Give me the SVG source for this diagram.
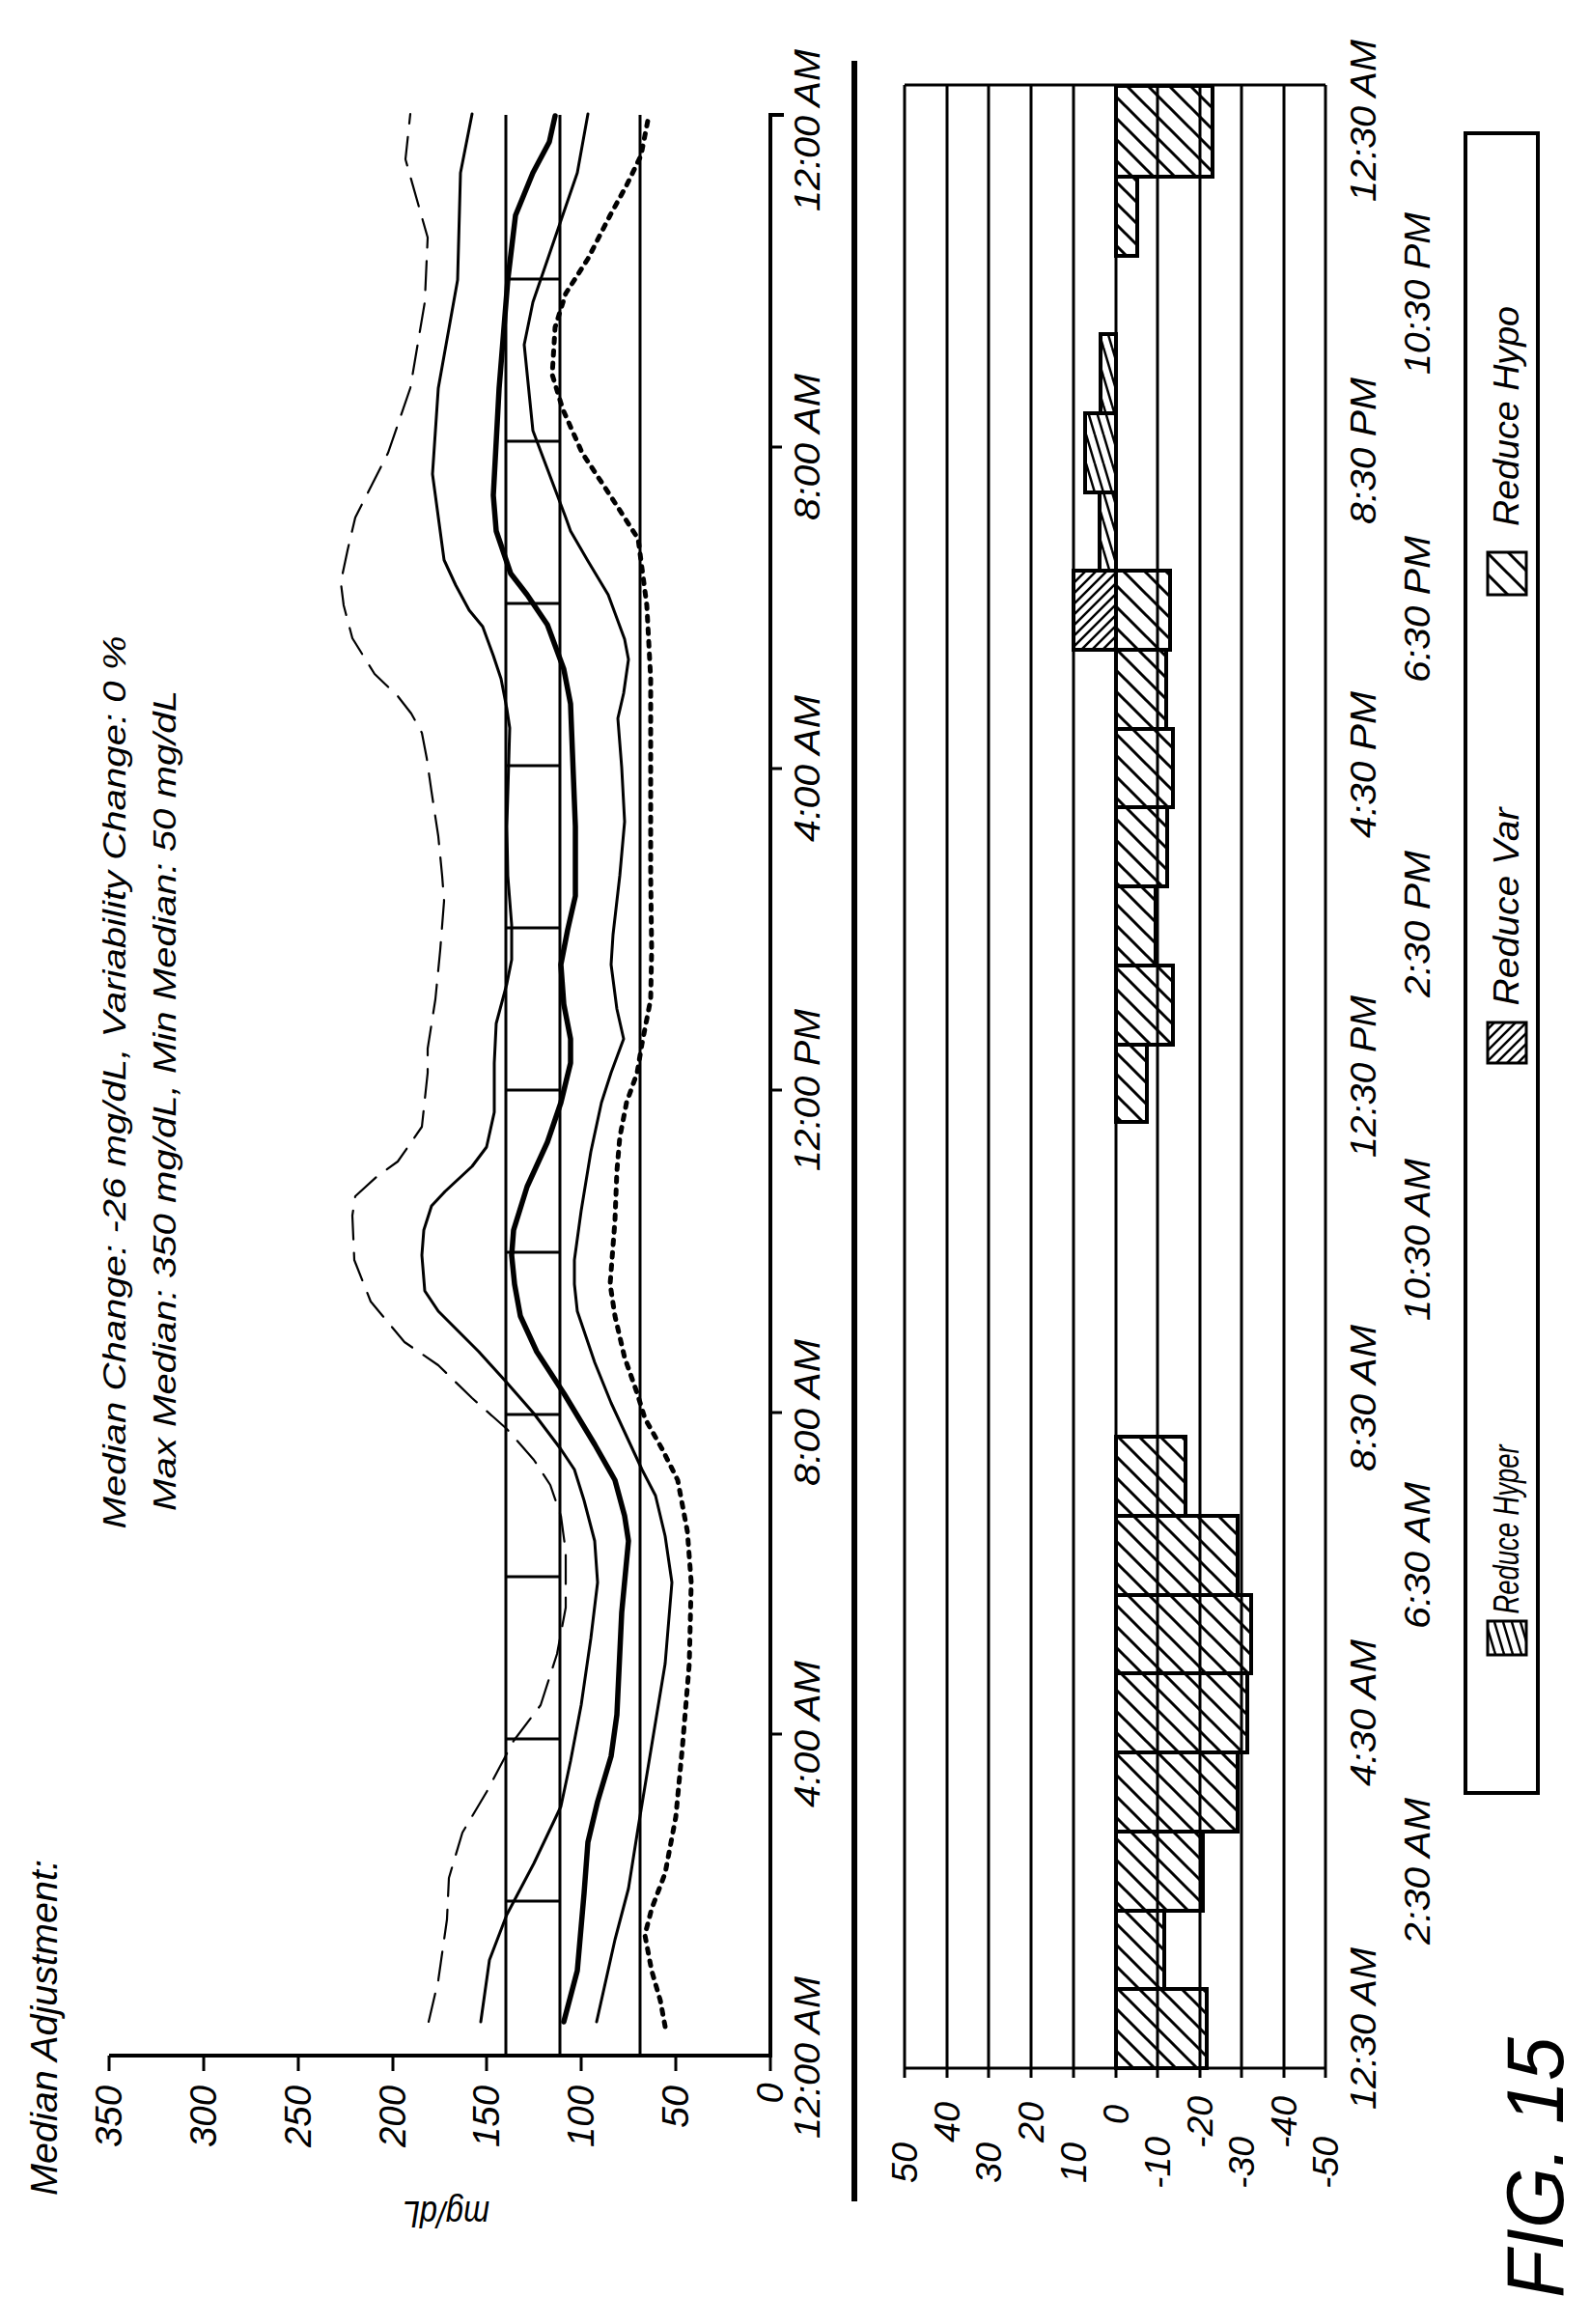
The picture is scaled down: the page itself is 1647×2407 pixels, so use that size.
<svg xmlns="http://www.w3.org/2000/svg" width="1647" height="2407" viewBox="0 0 1647 2407">
<style>
.t{font-family:"Liberation Sans","DejaVu Sans",sans-serif;font-style:italic;fill:#000}
.ln{stroke:#000;stroke-width:3;fill:none}
.bl{stroke:#000;stroke-width:4;fill:none}
.cv{stroke:#000;fill:none;stroke-linejoin:round;stroke-linecap:round}
</style>
<defs>
<pattern id="hy" patternUnits="userSpaceOnUse" width="22" height="22">
<path d="M0,0 L22,22 M-6,16 L6,28 M16,-6 L28,6" stroke="#000" stroke-width="3"/>
</pattern>
<pattern id="va" patternUnits="userSpaceOnUse" width="11" height="11">
<path d="M0,11 L11,0 M-3,3 L3,-3 M8,14 L14,8" stroke="#000" stroke-width="2.5"/>
</pattern>
<pattern id="hd" patternUnits="userSpaceOnUse" width="9" height="30">
<path d="M0,0 L9,30 M-9,0 L0,30 M9,0 L18,30" stroke="#000" stroke-width="2.5"/>
</pattern>
</defs>
<rect width="1647" height="2407" fill="#fff"/>

<g id="titles">
<text class="t" font-size="38" transform="translate(46,2100) rotate(-90)" text-anchor="middle" dominant-baseline="central" textLength="348" lengthAdjust="spacingAndGlyphs">Median Adjustment:</text>
<text class="t" font-size="34" transform="translate(118,1121) rotate(-90)" text-anchor="middle" dominant-baseline="central" textLength="925" lengthAdjust="spacingAndGlyphs">Median Change: -26 mg/dL, Variability Change: 0 %</text>
<text class="t" font-size="34" transform="translate(170,1140) rotate(-90)" text-anchor="middle" dominant-baseline="central" textLength="850" lengthAdjust="spacingAndGlyphs">Max Median: 350 mg/dL, Min Median: 50 mg/dL</text>
<text class="t" font-size="38" transform="translate(462,2293) rotate(180)" text-anchor="middle" dominant-baseline="central" textLength="90" lengthAdjust="spacingAndGlyphs">mg/dL</text>
<text class="t" font-size="84" transform="translate(1590,2245) rotate(-90)" text-anchor="middle" dominant-baseline="central" textLength="270" lengthAdjust="spacingAndGlyphs">FIG. 15</text>
</g>

<g id="top-chart-axes">
<path class="bl" d="M113,2129 H798 V119 H812"/>
<path class="ln" d="M113,2129 v16 M211,2129 v16 M309,2129 v16 M407,2129 v16 M504,2129 v16 M602,2129 v16 M700,2129 v16 M798,2129 v16"/>
<path class="ln" d="M798,1796 h12 M798,1463 h12 M798,1129 h12 M798,796 h12 M798,463 h12"/>
<g class="t" font-size="38" text-anchor="middle" dominant-baseline="central">
<text transform="translate(113,2192) rotate(-90)" textLength="64" lengthAdjust="spacingAndGlyphs">350</text>
<text transform="translate(211,2192) rotate(-90)" textLength="64" lengthAdjust="spacingAndGlyphs">300</text>
<text transform="translate(309,2192) rotate(-90)" textLength="64" lengthAdjust="spacingAndGlyphs">250</text>
<text transform="translate(407,2192) rotate(-90)" textLength="64" lengthAdjust="spacingAndGlyphs">200</text>
<text transform="translate(504,2192) rotate(-90)" textLength="64" lengthAdjust="spacingAndGlyphs">150</text>
<text transform="translate(602,2192) rotate(-90)" textLength="64" lengthAdjust="spacingAndGlyphs">100</text>
<text transform="translate(700,2182) rotate(-90)" textLength="44" lengthAdjust="spacingAndGlyphs">50</text>
<text transform="translate(798,2168) rotate(-90)">0</text>
</g>
<g class="t" font-size="36" text-anchor="middle" dominant-baseline="central">
<text transform="translate(836,2131) rotate(-90)" textLength="168" lengthAdjust="spacingAndGlyphs">12:00 AM</text>
<text transform="translate(836,1796) rotate(-90)" textLength="152" lengthAdjust="spacingAndGlyphs">4:00 AM</text>
<text transform="translate(836,1463) rotate(-90)" textLength="152" lengthAdjust="spacingAndGlyphs">8:00 AM</text>
<text transform="translate(836,1129) rotate(-90)" textLength="168" lengthAdjust="spacingAndGlyphs">12:00 PM</text>
<text transform="translate(836,796) rotate(-90)" textLength="152" lengthAdjust="spacingAndGlyphs">4:00 AM</text>
<text transform="translate(836,463) rotate(-90)" textLength="152" lengthAdjust="spacingAndGlyphs">8:00 AM</text>
<text transform="translate(836,135) rotate(-90)" textLength="168" lengthAdjust="spacingAndGlyphs">12:00 AM</text>
</g>
</g>

<g id="reference-lines">
<path class="ln" d="M524,2129 V119 M580,2129 V119 M663,2129 V119"/>
<path class="ln" d="M524,1969 H580 M524,1801 H580 M524,1633 H580 M524,1465 H580 M524,1297 H580 M524,1129 H580 M524,961 H580 M524,793 H580 M524,625 H580 M524,457 H580 M524,289 H580"/>
</g>

<g id="curves">
<polyline class="cv" stroke-width="2.2" stroke-dasharray="30 14" stroke-linecap="butt" points="444,2094 454,2051 463,1988 465,1945 479,1898 504,1856 532,1803 560,1766 577,1713 586,1665 586,1607 581,1570 570,1538 553,1512 525,1480 489,1448 454,1414 419,1390 384,1348 367,1305 365,1259 368,1239 391,1218 412,1203 437,1167 443,1111 443,1086 451,1035 456,984 460,933 458,907 454,866 447,820 442,785 437,759 426,739 412,721 388,698 365,661 356,627 353,603 360,570 368,536 402,469 425,402 440,313 443,246 420,165 425,118"/>
<polyline class="cv" stroke-width="3" points="498,2094 507,2030 525,1983 553,1930 581,1871 591,1824 602,1766 612,1697 619,1639 616,1596 605,1554 595,1522 581,1501 553,1464 525,1432 496,1400 454,1358 440,1337 437,1300 439,1274 447,1249 461,1234 489,1208 504,1188 512,1152 512,1101 514,1060 525,1019 530,994 530,958 526,907 525,856 528,754 525,734 519,703 511,679 500,649 486,632 472,606 460,580 448,491 454,402 474,290 477,179 489,118"/>
<polyline class="cv" stroke-width="5.5" points="584,2094 598,2041 605,1961 609,1908 619,1866 633,1819 639,1776 644,1670 651,1596 647,1570 637,1533 616,1496 584,1443 556,1400 539,1363 533,1330 530,1300 532,1274 546,1229 567,1183 581,1142 591,1101 591,1076 584,1040 581,999 588,963 596,928 596,856 593,780 591,729 584,693 567,647 546,616 529,594 514,550 511,513 517,402 526,290 534,223 552,179 569,147 575,120"/>
<polyline class="cv" stroke-width="3" points="618,2094 637,2009 651,1956 661,1893 675,1808 689,1723 696,1639 689,1591 679,1549 665,1522 633,1453 616,1411 598,1358 595,1330 595,1305 602,1254 612,1193 623,1142 633,1111 646,1076 639,1045 633,999 635,968 642,907 647,851 644,795 640,744 646,718 651,683 647,662 630,616 609,581 591,550 586,536 552,446 543,357 552,313 575,246 598,179 609,118"/>
<polyline class="cv" stroke-width="5" stroke-dasharray="5 8" stroke-linecap="butt" points="689,2099 684,2072 675,2041 668,2004 675,1977 689,1940 700,1882 707,1808 714,1723 716,1639 712,1586 702,1533 686,1501 668,1469 660,1443 647,1406 637,1363 632,1330 637,1264 639,1213 642,1178 649,1142 660,1111 665,1081 674,1035 675,984 674,907 674,805 674,703 670,627 661,558 632,513 603,469 583,424 572,388 575,339 586,304 609,268 632,223 649,192 664,161 672,120"/>
</g>

<g id="separator">
<path d="M885,63 V2280" stroke="#000" stroke-width="6"/>
</g>

<g id="bottom-chart">
<path class="ln" d="M937,88 H1373 M937,2142 H1373"/>
<path class="ln" d="M937,88 V2152 M981,88 V2152 M1024,88 V2152 M1068,88 V2152 M1112,88 V2152 M1156,88 V2152 M1199,88 V2152 M1243,88 V2152 M1286,88 V2152 M1330,88 V2152 M1373,88 V2152"/>
<g class="t" font-size="36" text-anchor="middle" dominant-baseline="central">
<text transform="translate(937,2240) rotate(-90)" textLength="42" lengthAdjust="spacingAndGlyphs">50</text>
<text transform="translate(981,2198) rotate(-90)" textLength="42" lengthAdjust="spacingAndGlyphs">40</text>
<text transform="translate(1024,2240) rotate(-90)" textLength="42" lengthAdjust="spacingAndGlyphs">30</text>
<text transform="translate(1068,2198) rotate(-90)" textLength="42" lengthAdjust="spacingAndGlyphs">20</text>
<text transform="translate(1112,2240) rotate(-90)" textLength="42" lengthAdjust="spacingAndGlyphs">10</text>
<text transform="translate(1156,2190) rotate(-90)">0</text>
<text transform="translate(1199,2240) rotate(-90)" textLength="54" lengthAdjust="spacingAndGlyphs">-10</text>
<text transform="translate(1243,2198) rotate(-90)" textLength="54" lengthAdjust="spacingAndGlyphs">-20</text>
<text transform="translate(1286,2240) rotate(-90)" textLength="54" lengthAdjust="spacingAndGlyphs">-30</text>
<text transform="translate(1330,2198) rotate(-90)" textLength="54" lengthAdjust="spacingAndGlyphs">-40</text>
<text transform="translate(1373,2240) rotate(-90)" textLength="54" lengthAdjust="spacingAndGlyphs">-50</text>
</g>
<g class="t" font-size="36" text-anchor="middle" dominant-baseline="central">
<text transform="translate(1412,2101) rotate(-90)" textLength="168" lengthAdjust="spacingAndGlyphs">12:30 AM</text>
<text transform="translate(1468,1938) rotate(-90)" textLength="152" lengthAdjust="spacingAndGlyphs">2:30 AM</text>
<text transform="translate(1412,1774) rotate(-90)" textLength="152" lengthAdjust="spacingAndGlyphs">4:30 AM</text>
<text transform="translate(1468,1611) rotate(-90)" textLength="152" lengthAdjust="spacingAndGlyphs">6:30 AM</text>
<text transform="translate(1412,1448) rotate(-90)" textLength="152" lengthAdjust="spacingAndGlyphs">8:30 AM</text>
<text transform="translate(1468,1284) rotate(-90)" textLength="168" lengthAdjust="spacingAndGlyphs">10:30 AM</text>
<text transform="translate(1412,1115) rotate(-90)" textLength="168" lengthAdjust="spacingAndGlyphs">12:30 PM</text>
<text transform="translate(1468,957) rotate(-90)" textLength="152" lengthAdjust="spacingAndGlyphs">2:30 PM</text>
<text transform="translate(1412,792) rotate(-90)" textLength="152" lengthAdjust="spacingAndGlyphs">4:30 PM</text>
<text transform="translate(1468,631) rotate(-90)" textLength="152" lengthAdjust="spacingAndGlyphs">6:30 PM</text>
<text transform="translate(1412,467) rotate(-90)" textLength="152" lengthAdjust="spacingAndGlyphs">8:30 PM</text>
<text transform="translate(1468,304) rotate(-90)" textLength="168" lengthAdjust="spacingAndGlyphs">10:30 PM</text>
<text transform="translate(1412,125) rotate(-90)" textLength="168" lengthAdjust="spacingAndGlyphs">12:30 AM</text>
</g>
</g>

<g id="bars" stroke="#000" stroke-width="4">
<rect x="1156" y="2060" width="94" height="82" fill="url(#hy)"/>
<rect x="1156" y="1979" width="50" height="81" fill="url(#hy)"/>
<rect x="1156" y="1897" width="90" height="82" fill="url(#hy)"/>
<rect x="1156" y="1815" width="126" height="82" fill="url(#hy)"/>
<rect x="1156" y="1733" width="136" height="82" fill="url(#hy)"/>
<rect x="1156" y="1652" width="140" height="81" fill="url(#hy)"/>
<rect x="1156" y="1570" width="126" height="82" fill="url(#hy)"/>
<rect x="1156" y="1488" width="72" height="82" fill="url(#hy)"/>
<rect x="1156" y="1082" width="32" height="80" fill="url(#hy)"/>
<rect x="1156" y="1000" width="59" height="82" fill="url(#hy)"/>
<rect x="1156" y="918" width="41" height="82" fill="url(#hy)"/>
<rect x="1156" y="836" width="53" height="82" fill="url(#hy)"/>
<rect x="1156" y="755" width="59" height="81" fill="url(#hy)"/>
<rect x="1156" y="673" width="52" height="82" fill="url(#hy)"/>
<rect x="1156" y="591" width="56" height="82" fill="url(#hy)"/>
<rect x="1112" y="591" width="44" height="82" fill="url(#va)"/>
<rect x="1139" y="510" width="17" height="81" fill="url(#hd)"/>
<rect x="1124" y="428" width="32" height="82" fill="url(#hd)"/>
<rect x="1140" y="346" width="16" height="82" fill="url(#hd)"/>
<rect x="1156" y="183" width="22" height="82" fill="url(#hy)"/>
<rect x="1156" y="89" width="100" height="94" fill="url(#hy)"/>
</g>

<g id="legend">
<rect x="1518" y="138" width="75" height="1719" fill="none" stroke="#000" stroke-width="4"/>
<rect x="1541" y="1679" width="40" height="35" fill="url(#hd)" stroke="#000" stroke-width="3"/>
<text class="t" font-size="36" transform="translate(1560,1584) rotate(-90)" text-anchor="middle" dominant-baseline="central" textLength="175" lengthAdjust="spacingAndGlyphs">Reduce Hyper</text>
<rect x="1541" y="1059" width="40" height="42" fill="url(#va)" stroke="#000" stroke-width="3"/>
<text class="t" font-size="36" transform="translate(1560,939) rotate(-90)" text-anchor="middle" dominant-baseline="central" textLength="205" lengthAdjust="spacingAndGlyphs">Reduce Var</text>
<rect x="1541" y="572" width="40" height="44" fill="url(#hy)" stroke="#000" stroke-width="3"/>
<text class="t" font-size="36" transform="translate(1560,431) rotate(-90)" text-anchor="middle" dominant-baseline="central" textLength="228" lengthAdjust="spacingAndGlyphs">Reduce Hypo</text>
</g>
</svg>
